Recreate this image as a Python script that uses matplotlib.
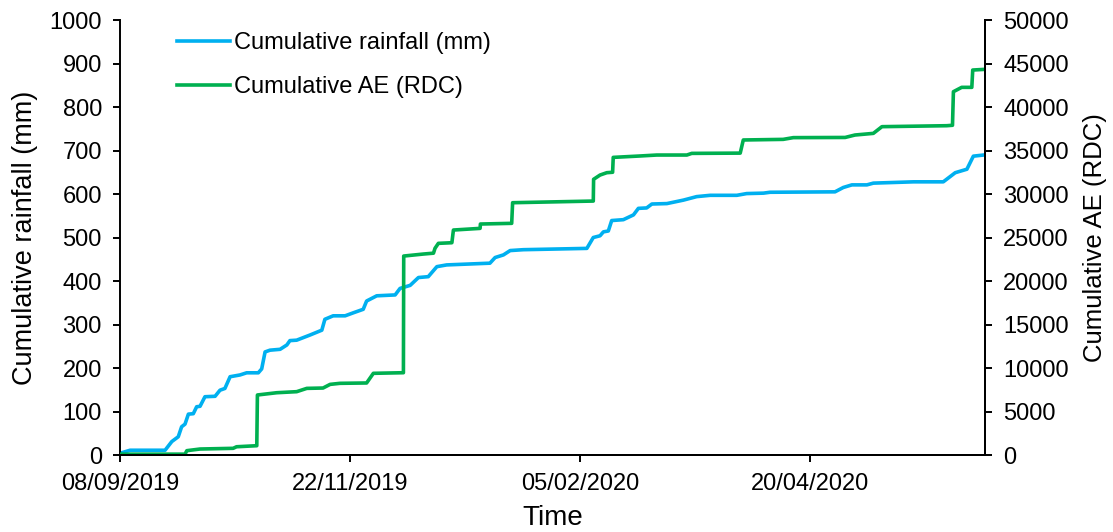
import matplotlib
matplotlib.use("Agg")
import matplotlib.pyplot as plt
import matplotlib.dates as mdates
import numpy as np
import pandas as pd

plt.rcParams['font.family'] = ['Liberation Sans', 'DejaVu Sans']

start = pd.Timestamp('2019-09-08')
end = pd.Timestamp('2020-06-16')

# days since 08/09/2019 and cumulative rainfall (mm)
rain_days = [0, 3.3, 14.7, 16.9, 19, 20.1, 21.2, 22.3, 23.9, 25, 26.1, 27.7, 31, 32.6,
             34.2, 35.9, 39.1, 41.3, 45.1, 46.2, 47.3, 48.9, 52.2, 54.4, 55.4, 57.6,
             62, 65.8, 66.8, 69.5, 73.4, 76.1, 79.3, 80.4, 83.7, 89.7, 91.3, 94.6,
             97.3, 100.5, 103.3, 106.5, 120.6, 122.3, 125, 127.2, 131.5, 152.2,
             154.3, 156.5, 157.6, 159.2, 160.3, 164.1, 167.4, 169, 171.7, 173.4,
             178.3, 183.7, 188, 192.4, 201.1, 204.3, 209.8, 211.9, 233.1, 235.8,
             238.6, 243.5, 245.6, 258.7, 268.4, 272.3, 276.1, 278.2, 282]
rain_mm = [4, 11, 11, 31, 42, 65, 71, 94, 95, 111, 112, 134, 135, 149,
           153, 180, 184, 189, 189, 198, 237, 241, 243, 253, 263, 264,
           276, 287, 312, 320, 320, 327, 335, 354, 366, 368, 383, 390,
           408, 410, 433, 437, 441, 454, 460, 470, 472, 475,
           500, 504, 513, 515, 539, 541, 552, 567, 568, 577,
           578, 586, 594, 597, 597, 601, 602, 604, 605, 615,
           621, 621, 625, 628, 628, 649, 657, 687, 690]

# days since 08/09/2019 and cumulative AE (RDC)
ae_days = [0, 21.2, 21.8, 26.1, 36.9, 38, 44.6, 44.8, 51.1, 57.6, 60.9, 66.2, 68.5,
           71.7, 80.4, 82.6, 92.4, 92.5, 98.9, 102.2, 102.7, 103.8, 108.2, 108.7,
           117.4, 117.5, 127.7, 128, 154.3, 154.4, 156.5, 158.7, 160.6, 160.8,
           169.5, 175, 184.8, 186.4, 202.2, 203.2, 216.2, 219.5, 236.4, 239.6,
           245.6, 248.4, 269.5, 271.4, 271.7, 274.4, 277.7, 278, 282]
ae_rdc = [100, 100, 500, 690, 770, 950, 1070, 6900, 7160, 7280, 7660, 7700, 8120,
          8240, 8280, 9390, 9460, 22870, 23100, 23200, 23760, 24330, 24400, 25860,
          26050, 26550, 26630, 29000, 29190, 31690, 32180, 32450, 32500, 34210,
          34370, 34480, 34480, 34670, 34700, 36210, 36280, 36480, 36500, 36780,
          36970, 37740, 37850, 37900, 41760, 42260, 42260, 44250, 44330]

rain_t = start + pd.to_timedelta(rain_days, unit='D')
ae_t = start + pd.to_timedelta(ae_days, unit='D')

fig = plt.figure(figsize=(11.13, 5.32), dpi=100)
ax = fig.add_axes([0.1078, 0.1447, 0.7772, 0.8177])
ax2 = ax.twinx()

l1, = ax.plot(rain_t, rain_mm, color='#00B0F0', lw=2.6, label='Cumulative rainfall (mm)')
l2, = ax2.plot(ae_t, ae_rdc, color='#00B050', lw=2.6, label='Cumulative AE (RDC)')

ax.set_ylim(0, 1000)
ax.set_yticks(np.arange(0, 1001, 100))
ax2.set_ylim(0, 50000)
ax2.set_yticks(np.arange(0, 50001, 5000))
ax.set_xlim(start, end)
ax.set_xticks([start + pd.Timedelta(days=75 * k) for k in range(4)])
ax.xaxis.set_major_formatter(mdates.DateFormatter('%d/%m/%Y'))

for a in (ax, ax2):
    a.spines['top'].set_visible(False)
    for s in a.spines.values():
        s.set_linewidth(1.4)
    a.tick_params(direction='out', length=5, width=1.4, labelsize=17, pad=8)
ax2.spines['left'].set_visible(False)

ax.set_ylabel('Cumulative rainfall (mm)', fontsize=19.5, labelpad=8)
ax2.set_ylabel('Cumulative AE (RDC)', fontsize=18.5, labelpad=10)
ax.set_xlabel('Time', fontsize=20, labelpad=7)

ax2.legend(handles=[l1, l2], loc='upper left', bbox_to_anchor=(0.0655, 0.972),
           frameon=False, fontsize=17, handlelength=2.25, handletextpad=0.2,
           labelspacing=0.93, borderaxespad=0, borderpad=0)

fig.savefig('out.png', dpi=100)
